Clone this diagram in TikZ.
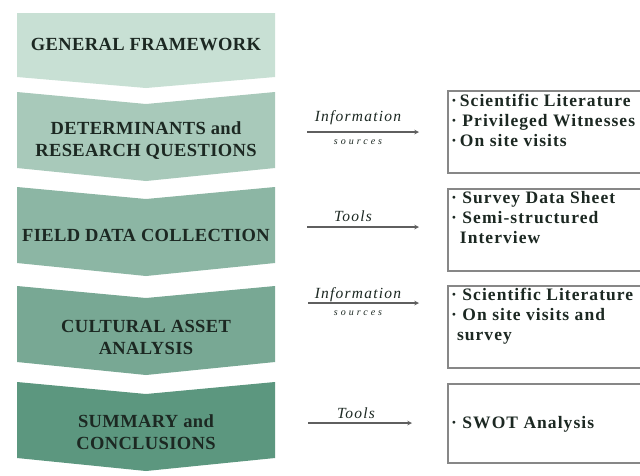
\documentclass[tikz,border=0pt]{standalone}
\usepackage{fontspec}
\setmainfont{Liberation Serif}
\newfontfamily\chevfont[LetterSpace=2]{Liberation Serif}
\newfontfamily\boxfont[LetterSpace=6]{Liberation Serif}
\newfontfamily\srcfont[LetterSpace=8]{Liberation Serif}
\newfontfamily\tinysrc[LetterSpace=30]{Liberation Serif}
\usepackage{tikz}
\usetikzlibrary{arrows,positioning}
\usepackage{xcolor}
\definecolor{chevA}{RGB}{200,224,212}
\definecolor{chevB}{RGB}{168,201,186}
\definecolor{chevC}{RGB}{140,182,164}
\definecolor{chevD}{RGB}{120,168,148}
\definecolor{chevE}{RGB}{92,151,127}
\definecolor{inkgreen}{RGB}{28,40,34}
\definecolor{boxgray}{RGB}{135,135,135}
\definecolor{linegray}{RGB}{95,95,95}

\begin{document}
\begin{tikzpicture}[x=1pt,y=-1pt,
        chevtext/.style={font=\chevfont\bfseries\fontsize{18.5}{22}\selectfont, text=inkgreen, align=center},
        infobox/.style={draw=boxgray, line width=1.6pt, anchor=north west, minimum width=230pt},
        boxtext/.style={font=\boxfont\bfseries\fontsize{17.5}{20}\selectfont, text=inkgreen, align=left, anchor=north west, inner sep=0pt},
        srclabel/.style={font=\srcfont\itshape\fontsize{15.5}{17}\selectfont, text=inkgreen},
        srcnote/.style={font=\tinysrc\itshape\fontsize{10}{12}\selectfont, text=inkgreen},
        conn/.style={draw=linegray, line width=1.1pt, -stealth, shorten >=28pt}]
        \clip (0,0) rectangle (640,475);
        \fill[white] (0,0) rectangle (640,475);

        % chevrons
        \fill[chevA] (17,13) -- (275,13) -- (275,77) -- (146,88) -- (17,77) -- cycle;
        \foreach \ya/\yb/\col in {92/168/chevB, 187/263/chevC, 286/362/chevD, 382/458/chevE}
                \fill[\col] (17,\ya) -- (146,\ya+12) -- (275,\ya) -- (275,\yb) -- (146,\yb+13) -- (17,\yb) -- cycle;

        \node[chevtext] (gf) at (146,45)  {GENERAL FRAMEWORK};
        \node[chevtext] (dr) at (146,141) {DETERMINANTS and\\RESEARCH QUESTIONS};
        \node[chevtext] (fd) at (146,235) {FIELD DATA COLLECTION};
        \node[chevtext] (ca) at (146,337) {CULTURAL ASSET\\ANALYSIS};
        \node[chevtext] (sc) at (146,432) {SUMMARY and\\CONCLUSIONS};

        % boxes
        \node[infobox, minimum height=82pt] (lit)  at (447,90)  {};
        \node[infobox, minimum height=82pt] (svy)  at (447,188) {};
        \node[infobox, minimum height=82pt] (ana)  at (447,285) {};
        \node[infobox, minimum height=79pt] (swot) at (447,383) {};

        \node[boxtext] (litx) at (451,94)  {·\,Scientific Literature\\· Privileged Witnesses\\·\,On site visits};
        \node[boxtext] (svyx) at (451,191) {· Survey Data Sheet\\· Semi-structured\\\phantom{·\,}Interview};
        \node[boxtext] (anax) at (451,288) {· Scientific Literature\\· On site visits and\\\phantom{·}survey};
        \node[boxtext, anchor=west] (swotx) at (451,424) {· SWOT Analysis};

        % links
        \node[srclabel] (inf1) at (358,118) {Information};
        \node[srcnote]  (src1) at (358,142) {sources};
        \coordinate (a1) at (307,132);
        \draw[conn] (a1) -- (a1 -| lit.west);

        \node[srclabel] (tl1) at (353,216) {Tools};
        \coordinate (a2) at (307,227);
        \draw[conn] (a2) -- (a2 -| svy.west);

        \node[srclabel] (inf2) at (358,295) {Information};
        \node[srcnote]  (src2) at (358,313) {sources};
        \coordinate (a3) at (308,303);
        \draw[conn] (a3) -- (a3 -| ana.west);

        \node[srclabel] (tl2) at (356,413) {Tools};
        \coordinate (a4) at (308,423);
        \draw[conn, shorten >=35pt] (a4) -- (a4 -| swot.west);
\end{tikzpicture}
\end{document}
